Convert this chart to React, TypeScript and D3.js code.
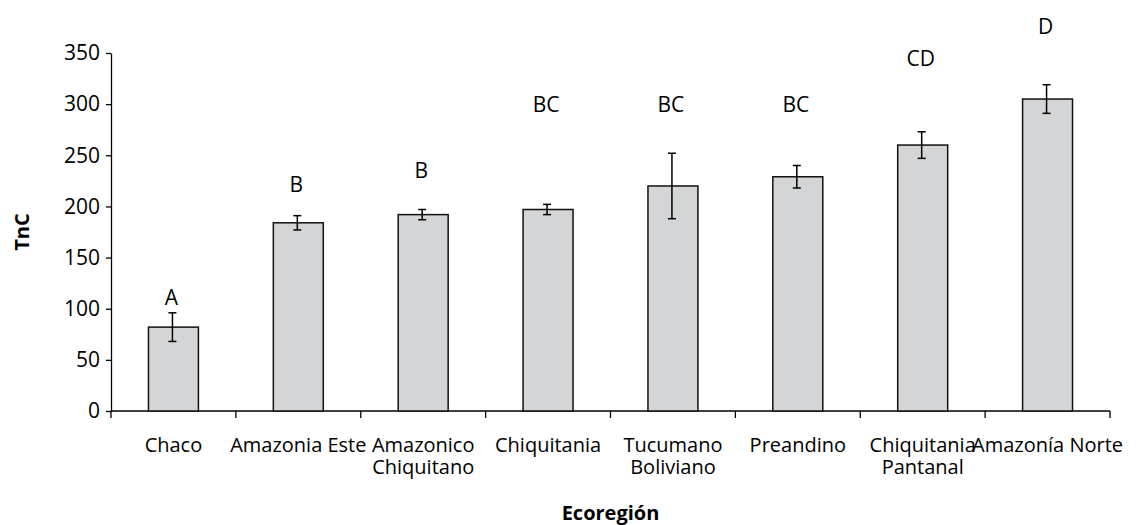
import { useEffect, useRef } from 'react';
import * as d3 from 'd3';

const width = 1145;
const height = 525;
const [mt, mr, mb, ml] = [53, 35, 114, 111];

const categories = [
    'Chaco',
    'Amazonia Este',
    'Amazonico\nChiquitano',
    'Chiquitania',
    'Tucumano\nBoliviano',
    'Preandino',
    'Chiquitania\nPantanal',
    'Amazonía Norte'
];
const values = [82, 184, 192, 197, 220, 229, 260, 305];
const errors = [14, 7, 5, 5, 32, 11, 13, 14];
const letters = ['A', 'B', 'B', 'BC', 'BC', 'BC', 'CD', 'D'];
// height (in TnC units) where each letter's baseline sits
const letterAt = [104, 214, 228, 292, 292, 292, 337, 369];
const yTicks = [0, 50, 100, 150, 200, 250, 300, 350];

const font = '"Open Sans", sans-serif';

export default function App() {
    const ref = useRef<SVGSVGElement>(null);

    useEffect(() => {
        const svg = d3.select(ref.current);
        svg.selectAll('*').remove();

        const x = d3
            .scaleBand<number>()
            .domain(d3.range(categories.length))
            .range([ml, width - mr])
            .paddingInner(0.6)
            .paddingOuter(0.3);
        const step = x.step();
        const y = d3.scaleLinear().domain([0, 350]).range([height - mb, mt]);

        // y axis
        const yAxis = svg
            .append('g')
            .attr('transform', `translate(${ml},0)`)
            .call(d3.axisLeft(y).tickValues(yTicks).tickSize(5).tickPadding(6).tickSizeOuter(0));
        yAxis.select('.domain').attr('stroke', '#000').attr('stroke-width', 1.3);
        yAxis.selectAll('.tick line').attr('stroke', '#000').attr('stroke-width', 1.3);
        yAxis.selectAll('.tick text').attr('font-family', font).attr('font-size', 21).attr('fill', '#000');

        // x axis line + ticks at category boundaries
        const x0 = ml;
        const x1 = ml + step * categories.length;
        const xAxis = svg.append('g');
        xAxis
            .append('line')
            .attr('x1', x0)
            .attr('x2', x1)
            .attr('y1', y(0))
            .attr('y2', y(0))
            .attr('stroke', '#000')
            .attr('stroke-width', 1.3);
        xAxis
            .selectAll('line.tk')
            .data(d3.range(categories.length + 1))
            .join('line')
            .attr('class', 'tk')
            .attr('x1', (i) => x0 + i * step)
            .attr('x2', (i) => x0 + i * step)
            .attr('y1', y(0))
            .attr('y2', y(0) + 7)
            .attr('stroke', '#000')
            .attr('stroke-width', 1.3);

        const cx = (i: number) => x(i)! + x.bandwidth() / 2;

        // category labels, one <text> per line
        const lines = categories.flatMap((c, i) => c.split('\n').map((t, j) => ({ t, i, j })));
        svg.append('g')
            .selectAll('text')
            .data(lines)
            .join('text')
            .attr('x', (d) => cx(d.i))
            .attr('y', (d) => y(0) + 41 + d.j * 22)
            .attr('font-family', font)
            .attr('font-size', 20)
            .attr('text-anchor', 'middle')
            .attr('fill', '#000')
            .text((d) => d.t);

        // bars
        svg.append('g')
            .selectAll('rect')
            .data(values)
            .join('rect')
            .attr('x', (_, i) => x(i)!)
            .attr('y', (d) => y(d))
            .attr('width', x.bandwidth())
            .attr('height', (d) => y(0) - y(d))
            .attr('fill', '#d4d5d7')
            .attr('stroke', '#111')
            .attr('stroke-width', 1.5);

        // error bars
        const err = svg.append('g').attr('stroke', '#000').attr('stroke-width', 1.5);
        values.forEach((v, i) => {
            const c = cx(i) - 1;
            err.append('line').attr('x1', c).attr('x2', c).attr('y1', y(v + errors[i])).attr('y2', y(v - errors[i]));
            [v + errors[i], v - errors[i]].forEach((e) => {
                err.append('line').attr('x1', c - 4).attr('x2', c + 4).attr('y1', y(e)).attr('y2', y(e));
            });
        });

        // significance letters
        svg.append('g')
            .selectAll('text')
            .data(letters)
            .join('text')
            .attr('x', (_, i) => cx(i) - 2)
            .attr('y', (_, i) => y(letterAt[i]))
            .attr('text-anchor', 'middle')
            .attr('font-family', font)
            .attr('font-size', 21)
            .attr('fill', '#000')
            .text((d) => d);

        // axis titles
        svg.append('text')
            .attr('transform', `translate(29,${(y(0) + y(350)) / 2}) rotate(-90)`)
            .attr('text-anchor', 'middle')
            .attr('font-family', font)
            .attr('font-weight', 'bold')
            .attr('font-size', 20)
            .text('TnC');
        svg.append('text')
            .attr('x', (x0 + x1) / 2)
            .attr('y', 520)
            .attr('text-anchor', 'middle')
            .attr('font-family', font)
            .attr('font-weight', 'bold')
            .attr('font-size', 20)
            .text('Ecoregión');
    }, []);

    return (
        <div style={{ position: 'absolute', left: 0, top: 0, background: '#fff' }}>
            <svg ref={ref} width={width} height={height} />
        </div>
    );
}
